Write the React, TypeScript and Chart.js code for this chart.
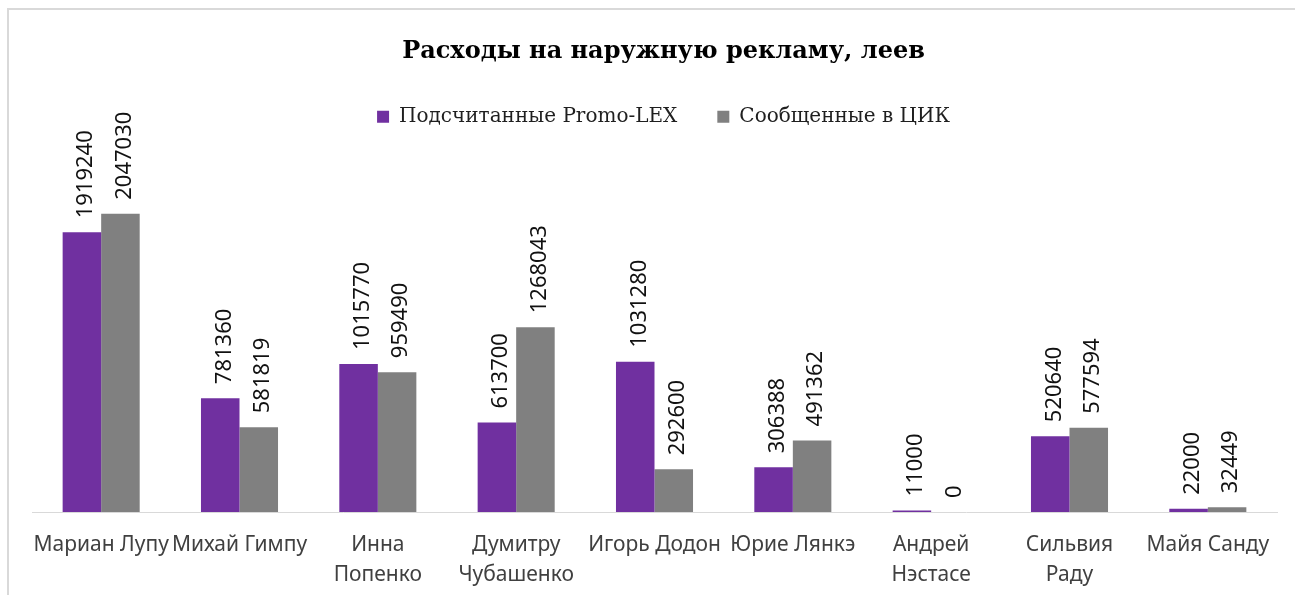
import React, { useEffect, useRef } from "react";
import { Chart, registerables } from "chart.js";

Chart.register(...registerables);

const categories: string[][] = [
  ["Мариан Лупу"],
  ["Михай Гимпу"],
  ["Инна", "Попенко"],
  ["Думитру", "Чубашенко"],
  ["Игорь Додон"],
  ["Юрие Лянкэ"],
  ["Андрей", "Нэстасе"],
  ["Сильвия", "Раду"],
  ["Майя Санду"],
];

const promoLexValues: number[] = [1919240, 781360, 1015770, 613700, 1031280, 306388, 11000, 520640, 22000];
const cikValues: number[] = [2047030, 581819, 959490, 1268043, 292600, 491362, 0, 577594, 32449];

const seriesNames: string[] = ["Подсчитанные Promo-LEX", "Сообщенные в ЦИК"];
const titleText = "Расходы на наружную рекламу, леев";
const yMax = 2575000;

const dataLabelPlugin = {
  id: "verticalDataLabels",
  afterDatasetsDraw(chart: any) {
    const ctx = chart.ctx;
    ctx.save();
    ctx.font = "22px 'Noto Sans'";
    ctx.fillStyle = "#111111";
    ctx.textAlign = "left";
    ctx.textBaseline = "middle";
    chart.data.datasets.forEach((ds: any, di: number) => {
      const meta = chart.getDatasetMeta(di);
      meta.data.forEach((el: any, i: number) => {
        const v = ds.data[i];
        ctx.save();
        ctx.translate(el.x + 4, el.y - 14);
        ctx.rotate(-Math.PI / 2);
        ctx.fillText(String(v), 0, 0);
        ctx.restore();
      });
    });
    ctx.restore();
  },
};

export default function App() {
  const canvasRef = useRef<HTMLCanvasElement | null>(null);

  useEffect(() => {
    if (!canvasRef.current) return;
    const chart = new Chart(canvasRef.current, {
      type: "bar",
      data: {
        labels: categories,
        datasets: [
          {
            label: seriesNames[0],
            data: promoLexValues,
            backgroundColor: "#7030A0",
            categoryPercentage: 0.557,
            barPercentage: 1,
          },
          {
            label: seriesNames[1],
            data: cikValues,
            backgroundColor: "#808080",
            categoryPercentage: 0.557,
            barPercentage: 1,
          },
        ],
      },
      options: {
        responsive: false,
        animation: false,
        devicePixelRatio: 1,
        layout: { padding: { left: 32, right: 0, top: 0, bottom: 0 } },
        plugins: {
          title: {
            display: true,
            text: titleText,
            color: "#000000",
            font: { family: "'DejaVu Serif'", size: 24, weight: "bold", lineHeight: 1.2 },
            padding: { top: 37, bottom: 1 },
          },
          legend: {
            display: true,
            position: "top",
            labels: {
              boxWidth: 12,
              boxHeight: 12,
              padding: 40,
              color: "#1f1f1f",
              font: { family: "'DejaVu Serif'", size: 20 },
            },
          },
          tooltip: { enabled: false },
        },
        scales: {
          x: {
            grid: { display: false, drawTicks: false },
            border: { display: true, color: "#d9d9d9", width: 1 },
            ticks: {
              color: "#404040",
              font: { family: "'Noto Sans'", size: 21, lineHeight: 1.43 },
              padding: 18,
              maxRotation: 0,
              minRotation: 0,
              autoSkip: false,
            },
            afterFit: (s: any) => {
              s.height = 83;
            },
          },
          y: {
            display: true,
            position: "right",
            min: 0,
            max: yMax,
            grid: { display: false, drawTicks: false },
            border: { display: false },
            ticks: { display: false },
            afterFit: (s: any) => {
              s.width = 18;
            },
          },
        },
      },
      plugins: [dataLabelPlugin],
    });
    return () => chart.destroy();
  }, []);

  return (
    <div
      style={{
        position: "fixed",
        left: 0,
        top: 0,
        width: 1295,
        height: 595,
        overflow: "hidden",
        background: "#ffffff",
      }}
    >
      <div
        style={{
          position: "absolute",
          left: 7,
          top: 8,
          width: 1300,
          height: 600,
          borderTop: "2px solid #d9d9d9",
          borderLeft: "2px solid #d9d9d9",
        }}
      />
      <canvas
        ref={canvasRef}
        width={1295}
        height={595}
        style={{ position: "absolute", left: 0, top: 0 }}
      />
    </div>
  );
}
